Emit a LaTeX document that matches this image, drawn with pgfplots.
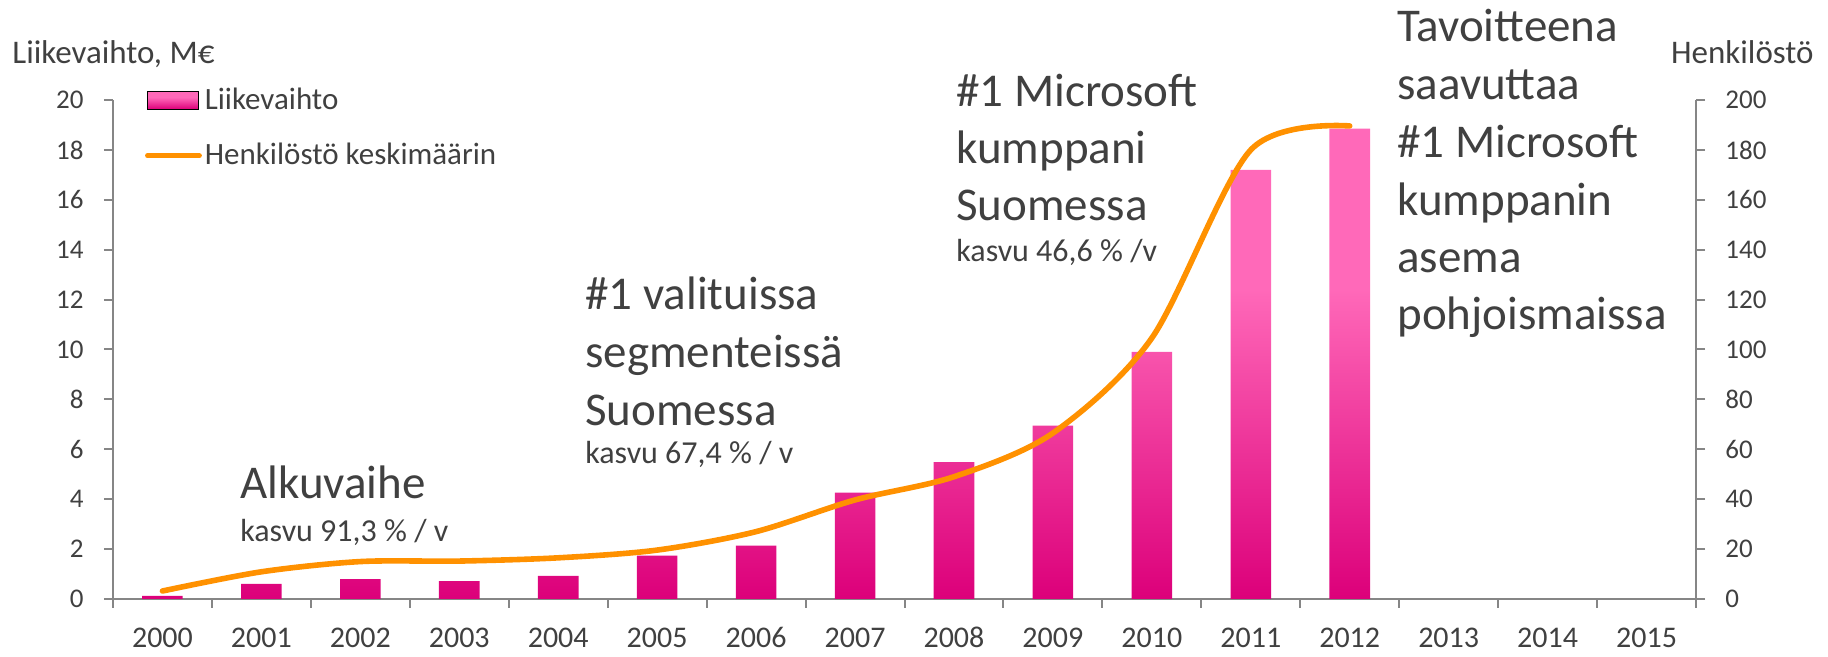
\documentclass[border=0pt]{standalone}
\usepackage{pgfplots}
\pgfplotsset{compat=1.18}
\usepackage{fontspec}
\setmainfont{Carlito}
\definecolor{pinkL}{RGB}{255,105,185}
\definecolor{pinkD}{RGB}{220,0,122}
\definecolor{orangeL}{RGB}{255,145,0}
\definecolor{axgray}{RGB}{134,134,134}
\definecolor{txt}{RGB}{64,64,64}
\pgfdeclareverticalshading{barshade}{100bp}{color(0bp)=(pinkD); color(25bp)=(pinkD); color(58bp)=(pinkL); color(75bp)=(pinkL); color(100bp)=(pinkL)}
\begin{document}
\begin{tikzpicture}
\useasboundingbox (-56.5pt,-29pt) rectangle (857.5pt,299.5pt);
\pgfplotsset{
  common/.style={
    at={(0pt,0pt)}, anchor=south west,
    width=791.5pt, height=249.5pt, scale only axis,
    xmin=-0.5, xmax=15.5,
    axis line style={axgray, line width=1pt},
    tick align=outside,
    major tick length=4.5pt, minor tick length=4.5pt,
    tick label style={text=txt},
    /pgf/number format/assume math mode=true,
    clip=false,
  }
}
\begin{axis}[common,
  ymin=0, ymax=20,
  axis x line*=bottom, axis y line*=left,
  xtick={0,...,15},
  xticklabels={2000,2001,2002,2003,2004,2005,2006,2007,2008,2009,2010,2011,2012,2013,2014,2015},
  xticklabel style={font=\fontsize{15}{18}\selectfont, anchor=base, inner sep=0pt, yshift=-20pt},
  major x tick style={draw=none},
  minor xtick={-0.5,0.5,...,15.5},
  minor x tick style={axgray, line width=1pt},
  ytick={0,2,...,20},
  yticklabel style={font=\fontsize{13.5}{16}\selectfont, anchor=east, inner sep=0pt, xshift=-10pt},
  y tick style={axgray, line width=1pt},
]
\addplot[ybar, bar width=0.41, draw=none, shade, shading=barshade] coordinates {
(0,0.12) (1,0.61) (2,0.8) (3,0.72) (4,0.93) (5,1.74) (6,2.14) (7,4.26) (8,5.49) (9,6.95) (10,9.9) (11,17.2) (12,18.85)
};
\end{axis}
\begin{axis}[common,
  ymin=0, ymax=200,
  axis y line*=right, axis x line=none,
  ytick={0,20,...,200},
  yticklabel style={font=\fontsize{13.5}{16}\selectfont, anchor=west, inner sep=0pt, xshift=10pt},
  y tick style={axgray, line width=1pt},
  legend style={at={(axis description cs:0.02,1.031)}, anchor=north west, draw=none, fill=none,
     font=\fontsize{15.5}{18}\selectfont, text=txt, row sep=12.5pt, inner sep=0pt, nodes={inner sep=1.5pt}},
  legend cell align=left,
]
\addlegendimage{legend image code/.code={\path[shade,shading=barshade] (0pt,-4.4pt) rectangle (25.5pt,4.4pt);}}
\addlegendentry{Liikevaihto}
\addplot[orangeL, line width=2.8pt, line cap=round, smooth, tension=0.5,
  legend image code/.code={\draw[orangeL, line width=2.4pt, line cap=round] (0pt,0pt) -- (26pt,0pt);}] coordinates {
(0,3.2) (1,10.9) (2,15) (3,15.2) (4,16.5) (5,19.6) (6,27) (7,39.7) (8,49) (9,66.5) (10,104.6) (11,180) (12,189.6)
};
\addlegendentry{Henkilöstö keskimäärin}
\end{axis}
\begin{scope}[every node/.style={inner sep=0pt, text=txt}]
\node[anchor=base west, font=\fontsize{16.5}{20}\selectfont] at (-50.5pt,267.5pt) {Liikevaihto, M€};
\node[anchor=base east, font=\fontsize{16.5}{20}\selectfont] at (850.5pt,267.5pt) {Henkilöstö};
\begin{scope}[every node/.append style={anchor=base west, font=\fontsize{23.5}{29}\selectfont}]
\node at (63.5pt,50pt) {Alkuvaihe};
\node at (236pt,144.5pt) {\#1 valituissa};
\node at (236pt,115.5pt) {segmenteissä};
\node at (236pt,86.5pt) {Suomessa};
\node at (421.5pt,246pt) {\#1 Microsoft};
\node at (421.5pt,217.5pt) {kumppani};
\node at (421.5pt,189pt) {Suomessa};
\node at (642pt,278.5pt) {Tavoitteena};
\node at (642pt,249.5pt) {saavuttaa};
\node at (642pt,220.5pt) {\#1 Microsoft};
\node at (642pt,191.5pt) {kumppanin};
\node at (642pt,163pt) {asema};
\node at (642pt,134.5pt) {pohjoismaissa};
\end{scope}
\begin{scope}[every node/.append style={anchor=base west, font=\fontsize{16}{19}\selectfont}]
\node at (63.5pt,28.5pt) {kasvu 91,3 \% / v};
\node at (236pt,67.5pt) {kasvu 67,4 \% / v};
\node at (421.5pt,168.5pt) {kasvu 46,6 \% /v};
\end{scope}
\end{scope}
\end{tikzpicture}
\end{document}
